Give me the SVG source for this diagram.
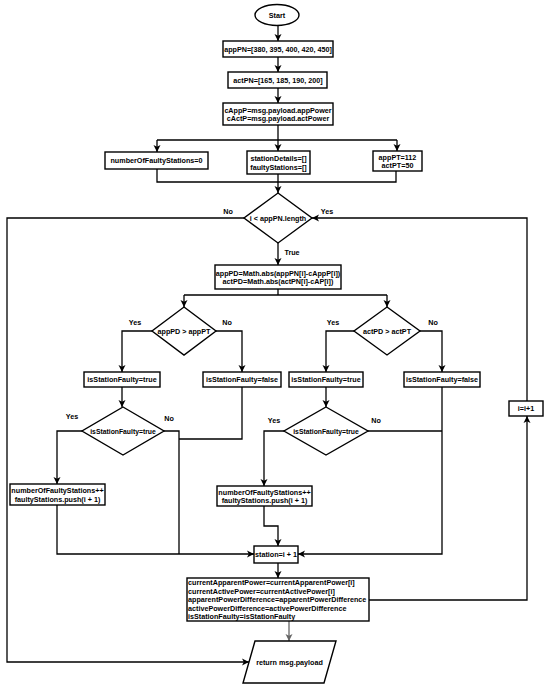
<svg xmlns="http://www.w3.org/2000/svg" width="550" height="688" viewBox="0 0 550 688">
<defs>
<marker id="ar" markerUnits="userSpaceOnUse" markerWidth="8" markerHeight="8" refX="7" refY="4" orient="auto">
<path d="M0,0.5 L7,4 L0,7.5 L1.8,4 z" fill="#000"/>
</marker>
<marker id="arg" markerUnits="userSpaceOnUse" markerWidth="8" markerHeight="8" refX="7" refY="4" orient="auto">
<path d="M0,0.5 L7,4 L0,7.5 L1.8,4 z" fill="#666"/>
</marker>
<style>
.n{fill:#fff;stroke:#000;stroke-width:1.4}
.t{font-family:"Liberation Sans",Arial,sans-serif;font-weight:bold;font-size:7.2px;fill:#000;text-anchor:middle;dominant-baseline:central}
.l{text-anchor:start}
.c{fill:none;stroke:#000;stroke-width:1.3}
.a{marker-end:url(#ar)}
</style>
</defs>
<rect width="550" height="688" fill="#fff"/>
<g id="connectors">
<path class="c a" d="M278,25 V41"/>
<path class="c a" d="M278,57 V72"/>
<path class="c a" d="M278,88 V103"/>
<path class="c a" d="M278,125 V151"/>
<path class="c" d="M157,140 H397"/>
<path class="c a" d="M157,140 V152"/>
<path class="c a" d="M397,140 V151"/>
<path class="c" d="M157,169 V182 H396 V171"/>
<path class="c a" d="M278,174 V193"/>
<path class="c a" d="M278,243 V265"/>
<path class="c" d="M278,289 V295"/>
<path class="c" d="M184,295 H387"/>
<path class="c a" d="M184,295 V307"/>
<path class="c a" d="M387,295 V307"/>
<path class="c a" d="M152,331 H122 V372"/>
<path class="c a" d="M216,331 H242 V372"/>
<path class="c a" d="M354,331 H326 V372"/>
<path class="c a" d="M420,331 H442 V372"/>
<path class="c a" d="M122,387 V407"/>
<path class="c a" d="M82,431 H57 V484"/>
<path class="c a" d="M57,505 V554 H254"/>
<path class="c" d="M164,431 H179 V554"/>
<path class="c" d="M242,387 V439 H179"/>
<path class="c a" d="M326,387 V407"/>
<path class="c a" d="M284,431 H264 V486"/>
<path class="c a" d="M264,506 V526 H278 V546"/>
<path class="c" d="M368,431 H442"/>
<path class="c a" d="M442,387 V554 H298"/>
<path class="c a" d="M278,563 V578"/>
<path class="c a" d="M369,600 H527 V416"/>
<path class="c a" d="M527,401 V218 H312"/>
<path class="c" d="M289,621 V641" style="stroke:#666;marker-end:url(#arg)"/>
<path class="c a" d="M244,218 H7 V662 H249"/>
<text class="t" x="228" y="211">No</text>
<text class="t" x="327" y="211">Yes</text>
<text class="t" x="292" y="252">True</text>
<text class="t" x="135" y="322">Yes</text>
<text class="t" x="227" y="322">No</text>
<text class="t" x="333" y="322">Yes</text>
<text class="t" x="433" y="322">No</text>
<text class="t" x="72" y="416">Yes</text>
<text class="t" x="169" y="418">No</text>
<text class="t" x="274" y="420">Yes</text>
<text class="t" x="376" y="420">No</text>
</g>
<g id="start">
<ellipse class="n" cx="277" cy="15" rx="22" ry="10.5"/>
<text class="t" x="277" y="15">Start</text>
</g>
<g id="appPN">
<rect class="n" x="223" y="41" width="110" height="16"/>
<text class="t" x="278" y="49">appPN=[380, 395, 400, 420, 450]</text>
</g>
<g id="actPN">
<rect class="n" x="228" y="72" width="99" height="16"/>
<text class="t" x="278" y="80">actPN=[165, 185, 190, 200]</text>
</g>
<g id="cAppP">
<rect class="n" x="223" y="103" width="110" height="22"/>
<text class="t" x="278" y="110">cAppP=msg.payload.appPower</text>
<text class="t" x="278" y="118.5">cActP=msg.payload.actPower</text>
</g>
<g id="numberOfFaultyStations">
<rect class="n" x="105" y="152" width="103" height="17"/>
<text class="t" x="156.5" y="160.5">numberOfFaultyStations=0</text>
</g>
<g id="stationDetails">
<rect class="n" x="247" y="151" width="63" height="23"/>
<text class="t" x="278.5" y="158.5">stationDetails=[]</text>
<text class="t" x="278.5" y="167">faultyStations=[]</text>
</g>
<g id="appPT">
<rect class="n" x="373" y="151" width="49" height="20"/>
<text class="t" x="397.5" y="157">appPT=112</text>
<text class="t" x="397.5" y="165">actPT=50</text>
</g>
<g id="loopCond">
<polygon class="n" points="278,193 312,218 278,243 244,218"/>
<text class="t" x="278" y="218">i &lt; appPN.length</text>
</g>
<g id="appPD">
<rect class="n" x="215" y="265" width="126" height="24"/>
<text class="t" x="278" y="273">appPD=Math.abs(appPN[i]-cAppP[i])</text>
<text class="t" x="278" y="281.5">actPD=Math.abs(actPN[i]-cAP[i])</text>
</g>
<g id="condApp">
<polygon class="n" points="184,307 216,331 184,355 152,331"/>
<text class="t" x="184" y="331">appPD &gt; appPT</text>
</g>
<g id="condAct">
<polygon class="n" points="387,307 420,331 387,355 354,331"/>
<text class="t" x="387" y="331">actPD &gt; actPT</text>
</g>
<g id="true1">
<rect class="n" x="84" y="372" width="76" height="15"/>
<text class="t" x="122" y="379.5">isStationFaulty=true</text>
</g>
<g id="false1">
<rect class="n" x="203" y="372" width="78" height="15"/>
<text class="t" x="242" y="379.5">isStationFaulty=false</text>
</g>
<g id="true2">
<rect class="n" x="289" y="372" width="74" height="15"/>
<text class="t" x="326" y="379.5">isStationFaulty=true</text>
</g>
<g id="false2">
<rect class="n" x="404" y="372" width="76" height="15"/>
<text class="t" x="442" y="379.5">isStationFaulty=false</text>
</g>
<g id="checkFaulty1">
<polygon class="n" points="123,407 164,431 123,455 82,431"/>
<text class="t" x="123" y="431" style="font-size:6.8px">isStationFaulty=true</text>
</g>
<g id="checkFaulty2">
<polygon class="n" points="326,407 368,431 326,455 284,431"/>
<text class="t" x="326" y="431" style="font-size:6.8px">isStationFaulty=true</text>
</g>
<g id="count1">
<rect class="n" x="10" y="484" width="95" height="21"/>
<text class="t" x="57.5" y="490.5">numberOfFaultyStations++</text>
<text class="t" x="57.5" y="499">faultyStations.push(i + 1)</text>
</g>
<g id="count2">
<rect class="n" x="217" y="486" width="95" height="20"/>
<text class="t" x="264.5" y="492">numberOfFaultyStations++</text>
<text class="t" x="264.5" y="500.5">faultyStations.push(i + 1)</text>
</g>
<g id="station">
<rect class="n" x="254" y="546" width="44" height="17"/>
<text class="t" x="276" y="554.5">station=i + 1</text>
</g>
<g id="details">
<rect class="n" x="187" y="578" width="182" height="43"/>
<text class="t l" x="188" y="582.5">currentApparentPower=currentApparentPower[i]</text>
<text class="t l" x="188" y="591">currentActivePower=currentActivePower[i]</text>
<text class="t l" x="188" y="599.5">apparentPowerDifference=apparentPowerDifference</text>
<text class="t l" x="188" y="608">activePowerDifference=activePowerDifference</text>
<text class="t l" x="188" y="616.5">isStationFaulty=isStationFaulty</text>
</g>
<g id="increment">
<rect class="n" x="509" y="401" width="34" height="15"/>
<text class="t" x="526" y="408.5">i=i+1</text>
</g>
<g id="return">
<polygon class="n" points="255,641 336,641 324,683 243,683"/>
<text class="t" x="289.5" y="662">return msg.payload</text>
</g>
</svg>
